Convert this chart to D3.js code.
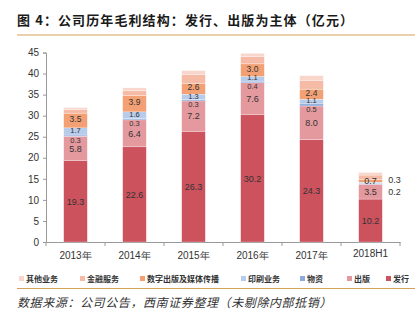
<!DOCTYPE html>
<html><head><meta charset="utf-8">
<script src="https://cdn.jsdelivr.net/npm/d3@7"></script>
<style>body{margin:0;background:#fff}svg{display:block}</style>
</head><body>
<script>
const categories = ["2013年","2014年","2015年","2016年","2017年","2018H1"];
const seriesNames = ["发行","出版","物资","印刷业务","数字出版及媒体传播","金融服务","其他业务"];
const faxing   = [19.3, 22.6, 26.3, 30.2, 24.3, 10.2];
const chuban   = [5.8, 6.4, 7.2, 7.6, 8.0, 3.5];
const wuzi     = [0.3, 0.3, 0.3, 0.4, 0.5, 0.2];
const yinshua  = [1.7, 1.6, 1.3, 1.1, 1.1, 0.3];
const shuzi    = [3.5, 3.9, 2.6, 3.0, 2.4, 0.7];
const jinrong  = [0.8, 1.1, 2.0, 1.7, 2.1, 1.0];
const qita     = [0.5, 0.7, 1.0, 0.8, 1.1, 0.6];
const yTicks   = [0,5,10,15,20,25,30,35,40,45];
const legendOrder = ["其他业务","金融服务","数字出版及媒体传播","印刷业务","物资","出版","发行"];
const colors = {"发行":"#CC525D","出版":"#E4999E","物资":"#8EA9DB","印刷业务":"#B7CBEA","数字出版及媒体传播":"#F2A074","金融服务":"#F6BBA6","其他业务":"#F9D6CB"};
const labeled = {"发行":true,"出版":true,"物资":true,"印刷业务":true,"数字出版及媒体传播":true};

const W=417,H=324;
const svg=d3.select("body").append("svg").attr("width",W).attr("height",H);
const seriesVals=[faxing,chuban,wuzi,yinshua,shuzi,jinrong,qita];
const rows=categories.map((c,i)=>{const r={cat:c};seriesNames.forEach((s,k)=>r[s]=seriesVals[k][i]);return r;});
const stack=d3.stack().keys(seriesNames)(rows);

const x=d3.scaleBand().domain(categories).range([46,400]).paddingInner(0.6).paddingOuter(0.3);
const y=d3.scaleLinear().domain([0,45]).range([242,52.5]);

// title
svg.append("text").attr("x",17).attr("y",25).attr("font-family","Noto Sans CJK SC").attr("font-weight","bold")
  .attr("font-size",13).attr("letter-spacing",1.1).attr("fill","#1a1a1a").text("图 4：公司历年毛利结构：发行、出版为主体（亿元）");
svg.append("line").attr("x1",17).attr("x2",415).attr("y1",35).attr("y2",35).attr("stroke","#D6A257").attr("stroke-width",1.2);

// axes
const yAxis=d3.axisLeft(y).tickValues(yTicks).tickSize(3).tickPadding(4);
const gy=svg.append("g").attr("transform","translate(46,0)").call(yAxis);
gy.selectAll("text").attr("font-family","Liberation Sans, Arial").attr("font-size",10).attr("fill","#333");
gy.selectAll("line,path").attr("stroke","#999");

const xAxis=d3.axisBottom(x).tickSize(0).tickPadding(10);
const gx=svg.append("g").attr("transform","translate(0,242)").call(xAxis);
gx.select("path").attr("stroke","#999");
gx.selectAll("text").attr("font-family","Liberation Sans, Arial").attr("font-size",10).attr("fill","#333")
  .attr("dy",(d)=>d==="2018H1"?"0.45em":"0.71em");
const step=x.step();
const bounds=[x.range()[0]];
categories.forEach(c=>bounds.push(x(c)+x.bandwidth()/2+step/2));
svg.append("g").selectAll("line").data(bounds).join("line")
  .attr("x1",d=>d).attr("x2",d=>d).attr("y1",242).attr("y2",246).attr("stroke","#999");

// bars
stack.forEach(layer=>{
  const name=layer.key;
  svg.append("g").selectAll("rect").data(layer).join("rect")
    .attr("x",d=>x(d.data.cat)).attr("width",x.bandwidth())
    .attr("y",d=>y(d[1])).attr("height",d=>y(d[0])-y(d[1]))
    .attr("fill",colors[name]).attr("stroke","#fff").attr("stroke-width",0.4).attr("stroke-opacity",0.7);
});
// labels
stack.forEach(layer=>{
  const name=layer.key;
  if(!labeled[name]) return;
  layer.forEach(d=>{
    const v=d[1]-d[0];
    const cx=x(d.data.cat)+x.bandwidth()/2;
    const cy=(y(d[0])+y(d[1]))/2;
    let tx=cx, ty=cy, anchor="middle", fs=9;
    if(d.data.cat==="2018H1" && (name==="物资"||name==="印刷业务")){
      tx=x(d.data.cat)+x.bandwidth()+6; anchor="start";
      ty = name==="印刷业务" ? cy-2.5 : cy+7.5;
    } else if(name==="印刷业务"){ ty=cy-1; fs=7.5; }
    else if(name==="物资"){ ty=cy+4.5; fs=7.5; }
    else if(name==="数字出版及媒体传播" && d.data.cat!=="2018H1"){ ty=cy-1.5; fs=8.5; }
    svg.append("text").attr("x",tx).attr("y",ty).attr("dy","0.35em").attr("text-anchor",anchor)
      .attr("font-family","Liberation Sans, Arial").attr("font-size",fs).attr("fill","#333").text(v.toFixed(1));
  });
});

// legend
const legX=[19,80,140,241,300,347,386];
const lg=svg.append("g");
legendOrder.forEach((n,i)=>{
  lg.append("rect").attr("x",legX[i]).attr("y",276).attr("width",5).attr("height",5).attr("fill",colors[n]);
  lg.append("text").attr("x",legX[i]+7).attr("y",282).attr("font-family","Noto Sans CJK SC").attr("font-weight","bold")
    .attr("font-size",8).attr("fill","#333").text(n);
});
svg.append("line").attr("x1",17).attr("x2",415).attr("y1",288.5).attr("y2",288.5).attr("stroke","#D6A257").attr("stroke-width",1.2);

svg.append("text").attr("x",17).attr("y",307).attr("font-family","Noto Sans CJK SC").attr("font-style","italic")
  .attr("font-size",12).attr("letter-spacing",0.6).attr("fill","#333").text("数据来源：公司公告，西南证券整理（未剔除内部抵销）");
</script>
</body></html>
